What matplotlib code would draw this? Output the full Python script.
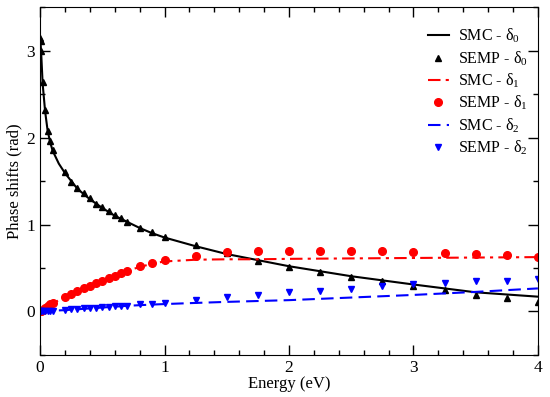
import numpy as np
import matplotlib
matplotlib.use('Agg')
from matplotlib import pyplot as plt
from matplotlib.ticker import MultipleLocator

plt.rcParams['font.family'] = ['Liberation Serif', 'DejaVu Serif']
plt.rcParams['mathtext.fontset'] = 'custom'
plt.rcParams['mathtext.rm'] = 'Liberation Serif'
plt.rcParams['mathtext.it'] = 'Liberation Serif:italic'

# SEMP data (symbols)
e_semp = [0.001, 0.005, 0.01, 0.02, 0.04, 0.06, 0.08, 0.1,
          0.2, 0.25, 0.3, 0.35, 0.4, 0.45, 0.5, 0.55, 0.6, 0.65, 0.7,
          0.8, 0.9, 1.0, 1.25, 1.5, 1.75, 2.0, 2.25, 2.5, 2.75, 3.0,
          3.25, 3.5, 3.75, 4.0]
semp_d0 = [3.14, 3.11, 2.99, 2.64, 2.32, 2.07, 1.96, 1.86,
           1.60, 1.49, 1.42, 1.36, 1.30, 1.24, 1.20, 1.15, 1.11, 1.08, 1.03,
           0.96, 0.91, 0.86, 0.77, 0.67, 0.58, 0.51, 0.455, 0.395, 0.345, 0.29,
           0.245, 0.19, 0.15, 0.11]
semp_d1 = [0.0, 0.005, 0.01, 0.02, 0.04, 0.06, 0.08, 0.1,
           0.165, 0.195, 0.235, 0.265, 0.295, 0.325, 0.355, 0.385, 0.41, 0.44, 0.47,
           0.52, 0.56, 0.59, 0.64, 0.68, 0.70, 0.70, 0.70, 0.70, 0.69, 0.68,
           0.67, 0.655, 0.645, 0.63]
semp_d2 = [0.0, 0.0, 0.0, 0.002, 0.004, 0.006, 0.008, 0.01,
           0.02, 0.025, 0.03, 0.035, 0.04, 0.045, 0.05, 0.055, 0.06, 0.063, 0.066,
           0.08, 0.09, 0.10, 0.13, 0.17, 0.19, 0.22, 0.24, 0.26, 0.29, 0.31,
           0.33, 0.345, 0.355, 0.37]

# SMC data (lines)
e_smc = [0.0, 0.005, 0.01, 0.02, 0.04, 0.06, 0.08, 0.1, 0.15, 0.2, 0.3, 0.4,
         0.5, 0.6, 0.7, 0.8, 0.9, 1.0, 1.25, 1.5, 1.75, 2.0, 2.5, 3.0, 3.5, 4.0]
smc_d0 = [3.14, 3.05, 2.92, 2.62, 2.30, 2.08, 1.95, 1.85, 1.70, 1.59, 1.41, 1.29,
          1.19, 1.10, 1.03, 0.96, 0.90, 0.85, 0.75, 0.66, 0.59, 0.52, 0.405, 0.31, 0.22, 0.17]
smc_d1 = [0.0, 0.004, 0.008, 0.016, 0.035, 0.055, 0.072, 0.09, 0.13, 0.17, 0.24, 0.30,
          0.36, 0.42, 0.47, 0.51, 0.55, 0.575, 0.595, 0.60, 0.60, 0.605, 0.61, 0.615, 0.62, 0.625]
smc_d2 = [0.0, 0.0, 0.0, 0.001, 0.003, 0.005, 0.007, 0.008, 0.012, 0.015, 0.025, 0.035,
          0.045, 0.055, 0.065, 0.072, 0.079, 0.085, 0.098, 0.11, 0.12, 0.13, 0.16, 0.19, 0.225, 0.265]

fig = plt.figure(figsize=(5.5, 3.97), dpi=100)
ax = fig.add_axes([0.073, 0.106, 0.905, 0.876])

ax.plot(e_smc, smc_d0, color='black', lw=1.5, label='SMC - δ$_0$')
ax.plot(e_semp, semp_d0, ls='none', marker='^', ms=5, color='black', label='SEMP - δ$_0$')
ax.plot(e_smc, smc_d1, color='red', lw=1.5, dashes=(6, 2.5, 1.5, 2.5), label='SMC - δ$_1$')
ax.plot(e_semp, semp_d1, ls='none', marker='o', ms=5.5, color='red', label='SEMP - δ$_1$')
ax.plot(e_smc, smc_d2, color='blue', lw=1.5, dashes=(6, 3), label='SMC - δ$_2$')
ax.plot(e_semp, semp_d2, ls='none', marker='v', ms=5, color='blue', label='SEMP - δ$_2$')

ax.set_xlim(0, 4)
ax.set_ylim(-0.5, 3.5)
ax.xaxis.set_major_locator(MultipleLocator(1))
ax.xaxis.set_minor_locator(MultipleLocator(0.2))
ax.yaxis.set_major_locator(MultipleLocator(1))
ax.yaxis.set_minor_locator(MultipleLocator(0.5))
ax.tick_params(which='both', direction='in', top=True, right=True, labelsize=12.5)
ax.tick_params(which='major', length=7, width=1)
ax.tick_params(which='minor', length=3.5, width=1)
ax.set_xlabel('Energy (eV)', fontsize=12, labelpad=0)
ax.set_ylabel('Phase shifts (rad)', fontsize=12, labelpad=3)

ax.legend(loc='upper right', frameon=False, fontsize=11.5, handlelength=1.3,
          handletextpad=0.6, labelspacing=0.25, bbox_to_anchor=(1.009, 0.985))

fig.savefig('out.png', dpi=100)
